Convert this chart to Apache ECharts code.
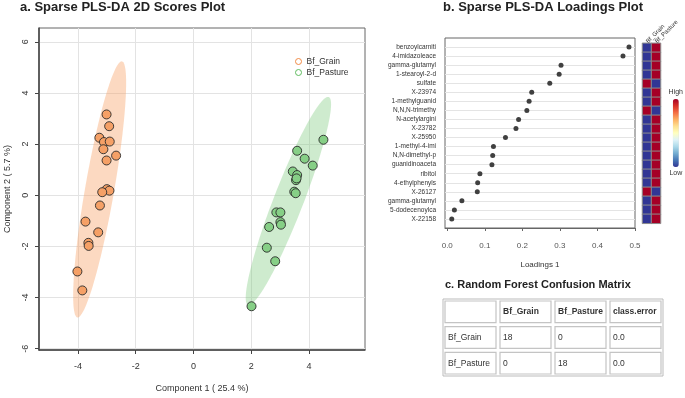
<!DOCTYPE html>
<html>
<head>
<meta charset="utf-8">
<script src="https://cdn.jsdelivr.net/npm/echarts@6/dist/echarts.min.js"></script>
<style>
  html, body { margin: 0; padding: 0; background: #fff; }
  #chart { width: 685px; height: 398px; }
</style>
</head>
<body>
<div id="chart"></div>
<script>
// a. scores (component 1, component 2)
const grainScores = [
  [-3.01, 3.16], [-2.92, 2.70], [-3.26, 2.25], [-3.10, 2.08], [-2.90, 2.10],
  [-3.12, 1.80], [-2.68, 1.55], [-3.01, 1.36], [-3.00, 0.24], [-2.91, 0.18],
  [-3.16, 0.12], [-3.24, -0.40], [-3.74, -1.03], [-3.30, -1.45], [-3.64, -1.86],
  [-3.63, -1.98], [-4.02, -2.98], [-3.85, -3.72]
];
const pastureScores = [
  [4.50, 2.17], [3.59, 1.74], [3.85, 1.43], [4.13, 1.16], [3.44, 0.93],
  [3.59, 0.79], [3.55, 0.59], [3.57, 0.66], [3.49, 0.14], [3.54, 0.08],
  [2.87, -0.67], [3.01, -0.67], [3.01, -1.05], [3.03, -1.15], [2.62, -1.24],
  [2.54, -2.05], [2.83, -2.58], [2.01, -4.34]
];
const scoreXTicks = [-4, -2, 0, 2, 4];
const scoreYTicks = [-6, -4, -2, 0, 2, 4, 6];

// b. loadings
const featureNames = [
  'benzoylcarniti', '4-imidazoleace', 'gamma-glutamyl', '1-stearoyl-2-d', 'sulfate',
  'X-23974', '1-methylguanid', 'N,N,N-trimethy', 'N-acetylargini', 'X-23782',
  'X-25950', '1-methyl-4-imi', 'N,N-dimethyl-p', 'guanidinoaceta', 'ribitol',
  '4-ethylphenyls', 'X-26127', 'gamma-glutamyl', '5-dodecenoylca', 'X-22158'
];
const loadings = [
  0.484, 0.468, 0.303, 0.298, 0.273, 0.225, 0.218, 0.212, 0.190, 0.183,
  0.155, 0.123, 0.121, 0.119, 0.087, 0.081, 0.080, 0.039, 0.019, 0.012
];
const loadingTicks = [0, 0.1, 0.2, 0.3, 0.4, 0.5];
const featureRows = featureNames.map((_, i) => i + 1);

// heatmap of group levels (1 = high, 0 = low)
const heatGroups = ['Bf_Grain', 'Bf_Pasture'];
const grainLevel =   [0, 0, 0, 0, 1, 0, 0, 1, 0, 0, 0, 0, 0, 0, 0, 0, 1, 0, 0, 0];
const pastureLevel = [1, 1, 1, 1, 0, 1, 1, 0, 1, 1, 1, 1, 1, 1, 1, 1, 0, 1, 1, 1];

// c. confusion matrix
const tableHeader = ['', 'Bf_Grain', 'Bf_Pasture', 'class.error'];
const tableRows = [
  ['Bf_Grain', '18', '0', '0.0'],
  ['Bf_Pasture', '0', '18', '0.0']
];

const FONT = 'Liberation Sans, Arial, Helvetica, sans-serif';

// 95% confidence ellipse from the group's covariance
function confEllipse(pts) {
  const n = pts.length;
  const mx = pts.reduce((s, p) => s + p[0], 0) / n;
  const my = pts.reduce((s, p) => s + p[1], 0) / n;
  let sxx = 0, syy = 0, sxy = 0;
  pts.forEach((p) => {
    sxx += (p[0] - mx) * (p[0] - mx);
    syy += (p[1] - my) * (p[1] - my);
    sxy += (p[0] - mx) * (p[1] - my);
  });
  sxx /= n - 1; syy /= n - 1; sxy /= n - 1;
  const k = Math.sqrt(5.991);
  const l11 = Math.sqrt(sxx);
  const l21 = sxy / l11;
  const l22 = Math.sqrt(syy - l21 * l21);
  const out = [];
  for (let i = 0; i < 120; i++) {
    const t = (2 * Math.PI * i) / 120;
    const a = Math.cos(t), b = Math.sin(t);
    out.push([mx + k * l11 * a, my + k * (l21 * a + l22 * b)]);
  }
  return { center: [mx, my], points: out };
}

function ellipseSeries(pts, fill) {
  const ell = confEllipse(pts);
  return {
    type: 'custom',
    xAxisIndex: 0,
    yAxisIndex: 0,
    silent: true,
    z: 1,
    data: [ell.center],
    renderItem: (params, api) => ({
      type: 'polygon',
      shape: { points: ell.points.map((p) => api.coord(p)) },
      style: { fill: fill }
    })
  };
}

const heatData = [];
grainLevel.forEach((v, i) => heatData.push([0, i, v]));
pastureLevel.forEach((v, i) => heatData.push([1, i, v]));

const tableCells = [];
[tableHeader].concat(tableRows).forEach((row, r) => {
  row.forEach((txt, c) => tableCells.push({ col: c, row: r, text: txt, bold: r === 0 }));
});

const chart = echarts.init(document.getElementById('chart'));

const option = {
  animation: false,
  textStyle: { fontFamily: FONT },
  title: [
    {
      text: 'a. Sparse PLS-DA 2D Scores Plot',
      left: 20, top: 1, padding: 0,
      textStyle: { fontSize: 13, fontWeight: 'bold', color: '#222', fontFamily: FONT }
    },
    {
      text: 'b. Sparse PLS-DA Loadings Plot',
      left: 443, top: 1, padding: 0,
      textStyle: { fontSize: 13, fontWeight: 'bold', color: '#222', fontFamily: FONT }
    },
    {
      text: 'c. Random Forest Confusion Matrix',
      left: 445, top: 279, padding: 0,
      textStyle: { fontSize: 11, fontWeight: 'bold', color: '#222', fontFamily: FONT }
    }
  ],
  legend: {
    left: 295,
    top: 57,
    padding: 0,
    orient: 'vertical',
    itemWidth: 6,
    itemHeight: 6,
    itemGap: 2,
    textStyle: { fontSize: 8.5, color: '#333', fontFamily: FONT },
    data: [
      { name: 'Bf_Grain', icon: 'circle', itemStyle: { color: '#fff', borderColor: '#F08A45', borderWidth: 1 } },
      { name: 'Bf_Pasture', icon: 'circle', itemStyle: { color: '#fff', borderColor: '#5DBB5D', borderWidth: 1 } }
    ]
  },
  visualMap: {
    show: true,
    type: 'continuous',
    seriesIndex: 5,
    min: 0,
    max: 1,
    orient: 'vertical',
    right: 2,
    top: 89,
    padding: 0,
    itemWidth: 6,
    itemHeight: 68,
    text: ['High', 'Low'],
    textGap: 3,
    calculable: false,
    textStyle: { fontSize: 7, color: '#333', fontFamily: FONT },
    inRange: {
      color: ['#313695', '#4575b4', '#74add1', '#abd9e9', '#e0f3f8', '#ffffbf',
              '#fee090', '#fdae61', '#f46d43', '#d73027', '#a50026']
    }
  },
  grid: [
    { left: 39, top: 28, width: 326, height: 325, show: true, borderColor: '#666', borderWidth: 1 },
    { left: 445, top: 38, width: 190, height: 190, show: true, borderColor: '#666', borderWidth: 1 },
    { left: 642.5, top: 43.3, width: 18, height: 180 },
    { left: 443, top: 299, width: 220, height: 77, show: true, borderColor: '#bbb', borderWidth: 1 }
  ],
  xAxis: [
    {
      type: 'value', gridIndex: 0, min: -5.35, max: 5.94,
      name: 'Component 1 ( 25.4 %)', nameLocation: 'middle', nameGap: 34,
      nameTextStyle: { fontSize: 9, color: '#333' },
      axisLine: { show: true, onZero: false, lineStyle: { color: '#444', width: 1.5 } },
      axisTick: { show: true, length: 4, customValues: scoreXTicks, lineStyle: { color: '#444' } },
      axisLabel: { customValues: scoreXTicks, fontSize: 9, color: '#333', margin: 12 },
      splitLine: { show: true, lineStyle: { color: '#e3e3e3' } }
    },
    {
      type: 'value', gridIndex: 1, min: -0.006, max: 0.5,
      name: 'Loadings 1', nameLocation: 'middle', nameGap: 33,
      nameTextStyle: { fontSize: 8, color: '#333' },
      axisLine: { show: true, onZero: false, lineStyle: { color: '#666' } },
      axisTick: { show: true, length: 3, customValues: loadingTicks, lineStyle: { color: '#666' } },
      axisLabel: { customValues: loadingTicks, fontSize: 8, color: '#555', margin: 14,
        formatter: (v) => v.toFixed(1) },
      splitLine: { show: false }
    },
    {
      type: 'category', gridIndex: 2, position: 'top', data: heatGroups,
      axisLine: { show: false }, axisTick: { show: false },
      axisLabel: { rotate: -45, align: 'left', verticalAlign: 'middle', fontSize: 6,
        color: '#333', margin: 1, interval: 0 }
    },
    { type: 'category', gridIndex: 3, show: false, data: tableHeader.map((_, i) => i) }
  ],
  yAxis: [
    {
      type: 'value', gridIndex: 0, min: -6.05, max: 6.54,
      name: 'Component 2 ( 5.7 %)', nameLocation: 'middle', nameGap: 27,
      nameTextStyle: { fontSize: 9, color: '#333' },
      axisLine: { show: true, onZero: false, lineStyle: { color: '#444', width: 1.5 } },
      axisTick: { show: true, length: 4, customValues: scoreYTicks, lineStyle: { color: '#444' } },
      axisLabel: { customValues: scoreYTicks, rotate: 90, fontSize: 9, color: '#333', margin: 9 },
      splitLine: { show: true, lineStyle: { color: '#e3e3e3' } }
    },
    {
      type: 'value', gridIndex: 1, inverse: true, min: 0, max: 21,
      axisLine: { show: false },
      axisTick: { show: false, customValues: featureRows },
      axisLabel: { customValues: featureRows, fontSize: 6.5, color: '#333', margin: 9,
        formatter: (v) => featureNames[v - 1] || '' },
      splitLine: { show: true, lineStyle: { color: '#e4e4e4' } }
    },
    {
      type: 'category', gridIndex: 2, inverse: true, show: false,
      data: featureNames.map((_, i) => i)
    },
    { type: 'category', gridIndex: 3, inverse: true, show: false, data: [0, 1, 2] }
  ],
  series: [
    ellipseSeries(grainScores, 'rgba(248, 160, 100, 0.4)'),
    ellipseSeries(pastureScores, 'rgba(120, 200, 120, 0.36)'),
    {
      name: 'Bf_Grain', type: 'scatter', xAxisIndex: 0, yAxisIndex: 0, z: 3,
      data: grainScores, symbolSize: 9,
      itemStyle: { color: '#F5A066', borderColor: '#2a2a2a', borderWidth: 0.9, opacity: 1 }
    },
    {
      name: 'Bf_Pasture', type: 'scatter', xAxisIndex: 0, yAxisIndex: 0, z: 3,
      data: pastureScores, symbolSize: 9,
      itemStyle: { color: '#86CF86', borderColor: '#2a2a2a', borderWidth: 0.9, opacity: 1 }
    },
    {
      type: 'scatter', xAxisIndex: 1, yAxisIndex: 1, symbolSize: 5,
      data: loadings.map((v, i) => [v, featureRows[i]]),
      itemStyle: { color: '#404040', opacity: 1 }
    },
    {
      type: 'heatmap', xAxisIndex: 2, yAxisIndex: 2,
      data: heatData,
      itemStyle: { borderColor: '#8c8c8c', borderWidth: 1 }
    },
    {
      type: 'custom', xAxisIndex: 3, yAxisIndex: 3, silent: true,
      data: tableCells.map((c) => [c.col, c.row]),
      renderItem: (params, api) => {
        const cell = tableCells[params.dataIndex];
        const p = api.coord([api.value(0), api.value(1)]);
        const s = api.size([1, 1]);
        return {
          type: 'group',
          children: [
            {
              type: 'rect',
              shape: { x: p[0] - s[0] / 2 + 2, y: p[1] - s[1] / 2 + 2, width: s[0] - 4, height: s[1] - 4 },
              style: { fill: '#fff', stroke: '#c4c4c4', lineWidth: 1.2 }
            },
            {
              type: 'text',
              style: {
                x: p[0] - s[0] / 2 + 5, y: p[1],
                text: cell.text,
                fill: '#333',
                fontSize: 8.5,
                fontWeight: cell.bold ? 'bold' : 'normal',
                fontFamily: FONT,
                align: 'left',
                verticalAlign: 'middle'
              }
            }
          ]
        };
      }
    }
  ]
};

chart.setOption(option);
</script>
</body>
</html>
